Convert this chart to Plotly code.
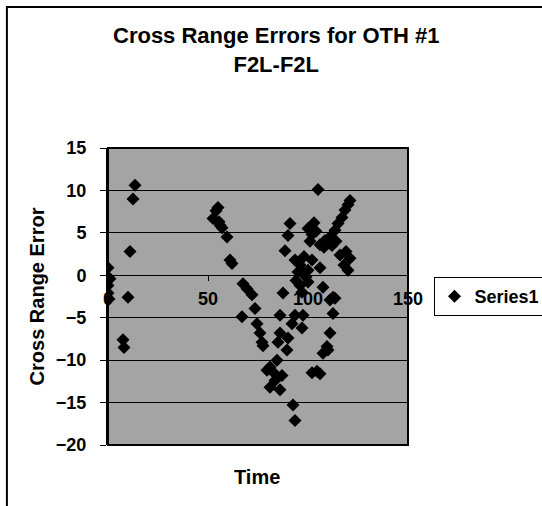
import plotly.graph_objects as go

# ---- data ----
time_vals = [
    0, 1, 0, 0, 0.5, 10, 7.5, 8, 11, 12.5, 13.5,
    52.5, 54, 55, 55.5, 56, 57, 59.5, 61, 62,
    67.5, 69.5, 72, 73.5, 67, 74.5, 76, 77, 77.5, 79.5, 81, 82.5, 83.5, 81, 86, 87, 84.5, 92.5, 93.5,
    86, 92, 97, 86, 90, 85, 89.5, 93.5, 87.5, 97.5,
    102, 104.5, 106, 107.5, 109.5, 110, 111, 112.5, 111, 113.5, 107.5, 112.5,
    88.5, 90, 91, 93.5, 105, 108.5, 111, 113.5, 115, 117, 118.5, 120, 121,
    100, 102, 104, 106, 108, 110, 103, 101, 114, 112,
    96, 98, 100, 102, 99, 106,
    116, 118, 120, 121, 119,
    94, 96, 98, 100, 97, 95,
]
cross_range_error = [
    0.9, -0.4, -1.2, -2.1, -2.8, -2.6, -7.6, -8.5, 2.8, 9.0, 10.6,
    6.7, 7.6, 8.0, 6.3, 5.9, 5.6, 4.5, 1.8, 1.4,
    -1.0, -1.6, -2.3, -3.9, -4.9, -5.7, -6.8, -7.9, -8.3, -11.2, -10.8, -11.4, -12.4, -13.2, -13.5, -11.8, -10.0, -15.3, -17.1,
    -4.7, -5.7, -6.2, -6.8, -7.4, -7.9, -8.8, -4.7, -2.1, -4.7,
    -11.5, -11.3, -11.6, -9.2, -8.4, -8.8, -6.8, -4.5, -2.9, -2.7, -1.4, -2.6,
    2.9, 4.7, 6.1, 1.8, 10.1, 4.1, 4.5, 5.3, 6.1, 6.8, 7.7, 8.3, 8.8,
    5.5, 4.8, 5.2, 3.6, 3.3, 3.8, 6.2, 4.0, 4.0, 3.5,
    1.2, 2.2, 0.6, 1.8, -0.2, 0.9,
    2.4, 1.2, 0.6, 2.0, 2.8,
    -0.6, -1.2, 0.2, -0.8, -2.0, 0.4,
]
x_ticks = [0, 50, 100, 150]
y_ticks = [-20, -15, -10, -5, 0, 5, 10, 15]
series_name = "Series1"
title_lines = ["Cross Range Errors for OTH #1", "F2L-F2L"]

X_MIN, X_MAX = 0, 150
Y_MIN, Y_MAX = -20, 15

FONT = "Arial, Liberation Sans, sans-serif"

fig = go.Figure()
fig.add_trace(go.Scatter(
    x=time_vals, y=cross_range_error, mode="markers", name=series_name,
    marker=dict(symbol="diamond", size=10, color="black", line=dict(width=0)),
))

fig.update_layout(
    width=542, height=506, autosize=False,
    margin=dict(l=108, r=134, t=148, b=61, autoexpand=False),
    paper_bgcolor="white",
    plot_bgcolor="#a4a4a4",
    font=dict(family=FONT, color="black"),
    showlegend=True,
    legend=dict(
        x=1.085, xanchor="left", y=0.5, yanchor="middle",
        bgcolor="white", bordercolor="black", borderwidth=1,
        font=dict(family=FONT, size=18, weight="bold", color="black"),
    ),
    xaxis=dict(
        range=[X_MIN, X_MAX], tickvals=x_ticks,
        anchor="free", position=(0 - Y_MIN) / (Y_MAX - Y_MIN),
        showline=True, linecolor="black", linewidth=1,
        ticks="outside", ticklen=5, tickcolor="black",
        showgrid=False, zeroline=False,
        tickfont=dict(family=FONT, size=18, weight="bold", color="black"),
        ticklabelstandoff=2,
    ),
    yaxis=dict(
        range=[Y_MIN, Y_MAX], tickvals=y_ticks,
        showline=True, linecolor="black", linewidth=2,
        ticks="outside", ticklen=6, tickcolor="black", tickwidth=1,
        showgrid=True, gridcolor="black", gridwidth=1,
        zeroline=False,
        tickfont=dict(family=FONT, size=18, weight="bold", color="black"),
        ticklabelstandoff=10,
    ),
)

# plot-area frame
fig.add_shape(type="rect", xref="paper", yref="paper", x0=0, y0=0, x1=1, y1=1,
              line=dict(color="black", width=2), layer="above")
# outer chart frame
fig.add_shape(type="rect", xref="paper", yref="paper",
              x0=-0.337, y0=-0.22, x1=1.46, y1=1.475,
              line=dict(color="black", width=2))

fig.add_annotation(text="<br>".join(title_lines), xref="paper", yref="paper",
                   x=0.56, y=1.33, xanchor="center", yanchor="middle", showarrow=False,
                   font=dict(family=FONT, size=22, weight="bold", color="black"))
fig.add_annotation(text="Cross Range Error", xref="paper", yref="paper",
                   x=-0.237, y=0.5, xanchor="center", yanchor="middle", textangle=-90,
                   showarrow=False,
                   font=dict(family=FONT, size=20, weight="bold", color="black"))
fig.add_annotation(text="Time", xref="paper", yref="paper",
                   x=0.497, y=-0.108, xanchor="center", yanchor="middle", showarrow=False,
                   font=dict(family=FONT, size=20, weight="bold", color="black"))

fig.write_html(
    "out.html",
    config=dict(displayModeBar=False, responsive=False),
    post_script="document.body.style.margin='0';document.body.style.overflow='hidden';",
)
